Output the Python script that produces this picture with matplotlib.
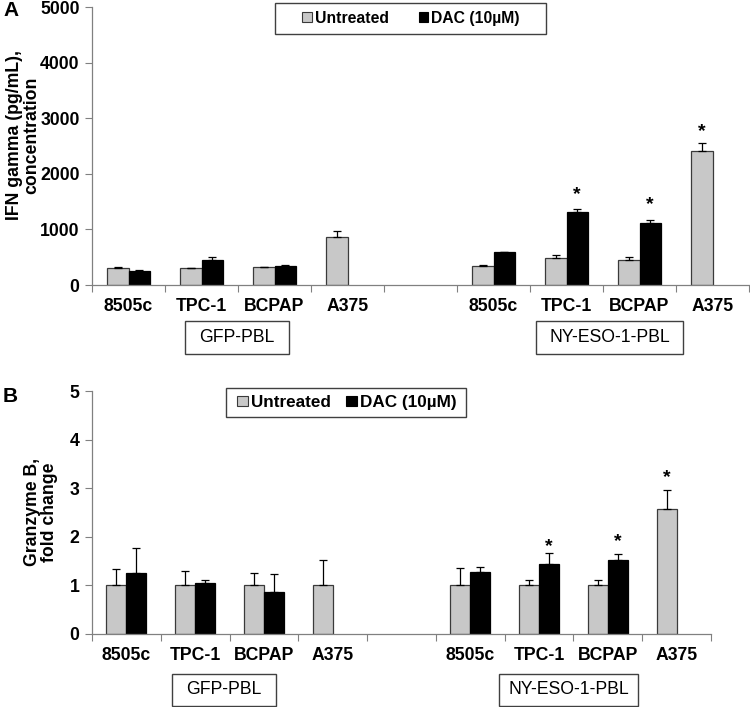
import numpy as np
import matplotlib
matplotlib.use("Agg")
import matplotlib.pyplot as plt
from matplotlib.patches import Patch, Rectangle

plt.rcParams['font.family'] = ['Liberation Sans', 'DejaVu Sans']

# ---------------- data ----------------
categories = ['8505c', 'TPC-1', 'BCPAP', 'A375', '', '8505c', 'TPC-1', 'BCPAP', 'A375']
series_names = ['Untreated', 'DAC (10\u00b5M)']
groups = ['GFP-PBL', 'NY-ESO-1-PBL']

nan = np.nan
ifn_untreated = [310, 300, 320, 860, nan, 340, 480, 450, 2410]
ifn_untreated_err = [15, 8, 12, 120, nan, 20, 55, 50, 140]
ifn_dac = [255, 450, 350, nan, nan, 590, 1305, 1110, nan]
ifn_dac_err = [15, 50, 8, nan, nan, 8, 55, 55, nan]
ifn_stars = [(6, 1, 1727), (7, 1, 1547), (8, 0, 2860)]

gzb_untreated = [1.0, 1.0, 1.0, 1.0, nan, 1.0, 1.0, 1.0, 2.57]
gzb_untreated_err = [0.34, 0.29, 0.25, 0.53, nan, 0.36, 0.12, 0.12, 0.40]
gzb_dac = [1.25, 1.05, 0.87, nan, nan, 1.27, 1.44, 1.52, nan]
gzb_dac_err = [0.51, 0.07, 0.36, nan, nan, 0.11, 0.23, 0.12, nan]
gzb_stars = [(6, 1, 1.93), (7, 1, 2.02), (8, 0, 3.34)]

# ---------------- style ----------------
W, H = 750, 707
GREY = '#c8c8c8'
EDGE = '#3a3a3a'
SPINE = '#808080'
FS = 12.7

fig = plt.figure(figsize=(W / 100, H / 100), dpi=100)


def fx(px):
    return px / W


def fy(py):
    return 1 - py / H


def panel(ax, unt, unt_err, dac, dac_err, stars, ymax, ystep, capsize):
    x = np.arange(len(categories))
    bw = 0.29
    unt = np.array(unt, float); dac = np.array(dac, float)
    ue = np.array(unt_err, float); de = np.array(dac_err, float)
    m1 = ~np.isnan(unt)
    m2 = ~np.isnan(dac)
    ax.bar(x[m1] - bw / 2, unt[m1], bw, color=GREY, edgecolor=EDGE, linewidth=0.9, zorder=2)
    ax.bar(x[m2] + bw / 2, dac[m2], bw, color='black', edgecolor='black', linewidth=0.9, zorder=2)
    ax.errorbar(x[m1] - bw / 2, unt[m1], yerr=[np.zeros(m1.sum()), ue[m1]], fmt='none',
                ecolor='black', elinewidth=0.9, capsize=capsize, capthick=0.9, zorder=3)
    ax.errorbar(x[m2] + bw / 2, dac[m2], yerr=[np.zeros(m2.sum()), de[m2]], fmt='none',
                ecolor='black', elinewidth=0.9, capsize=capsize, capthick=0.9, zorder=3)
    for idx, s, yv in stars:
        xs = idx + (bw / 2 if s == 1 else -bw / 2)
        ax.annotate('*', xy=(xs, yv), xytext=(0, -7.5), textcoords='offset points',
                    ha='center', va='baseline', fontsize=14, fontweight='bold')
    ax.set_xlim(-0.5, len(categories) - 0.5)
    ax.set_ylim(0, ymax)
    ax.set_yticks(np.arange(0, ymax + ystep / 2, ystep))
    ax.set_yticklabels([f'{int(v)}' for v in np.arange(0, ymax + ystep / 2, ystep)],
                       fontsize=FS, fontweight='bold')
    ax.set_xticks(x)
    ax.set_xticklabels(categories, fontsize=FS, fontweight='bold')
    ax.set_xticks(np.arange(-0.5, len(categories)), minor=True)
    ax.tick_params(axis='x', which='major', length=0, pad=9)
    ax.tick_params(axis='x', which='minor', length=5, width=0.8, color=SPINE, direction='out')
    ax.tick_params(axis='y', length=5, width=0.8, color=SPINE, direction='out', pad=4)
    for sp in ['top', 'right']:
        ax.spines[sp].set_visible(False)
    for sp in ['left', 'bottom']:
        ax.spines[sp].set_color(SPINE)
        ax.spines[sp].set_linewidth(0.9)
    ax.patch.set_alpha(0)


axA = fig.add_axes([fx(92), fy(285), fx(749 - 92), (285 - 7) / H])
panel(axA, ifn_untreated, ifn_untreated_err, ifn_dac, ifn_dac_err, ifn_stars, 5000, 1000, 3)
axB = fig.add_axes([fx(92), fy(634), fx(711 - 92), (634 - 391) / H])
panel(axB, gzb_untreated, gzb_untreated_err, gzb_dac, gzb_dac_err, gzb_stars, 5, 1, 3)

# panel letters
fig.text(fx(3), fy(11), 'A', fontsize=15, fontweight='bold', ha='left', va='center')
fig.text(fx(3), fy(396), 'B', fontsize=15, fontweight='bold', ha='left', va='center')

# y labels
fig.text(fx(23), fy(135), 'IFN gamma (pg/mL),\nconcentration', rotation=90, ha='center',
         va='center', fontsize=FS, fontweight='bold', linespacing=1.0, multialignment='center')
fig.text(fx(41), fy(512), 'Granzyme B,\nfold change', rotation=90, ha='center',
         va='center', fontsize=FS, fontweight='bold', linespacing=1.0, multialignment='center')

# legends
handles = [Patch(facecolor=GREY, edgecolor=EDGE, linewidth=0.8),
           Patch(facecolor='black', edgecolor='black', linewidth=0.8)]


def framed_legend(x0, y0, x1, y1, cx, size, colsp):
    fig.add_artist(Rectangle((fx(x0), fy(y1)), fx(x1 - x0), (y1 - y0) / H,
                             transform=fig.transFigure, fill=False, edgecolor='#404040', lw=1.0))
    fig.legend(handles, series_names, loc='center', bbox_to_anchor=(fx(cx), fy((y0 + y1) / 2)),
               ncol=2, frameon=False, prop={'size': size, 'weight': 'bold'},
               handlelength=0.6, handleheight=0.6, handletextpad=0.2, columnspacing=colsp,
               borderpad=0, borderaxespad=0)


framed_legend(275, 3, 546, 34, 411, 11.3, 1.9)
framed_legend(226, 388, 466, 417, 347, 12.3, 0.9)


# group boxes
def group_box(x0, y0, x1, y1, label):
    fig.add_artist(Rectangle((fx(x0), fy(y1)), fx(x1 - x0), (y1 - y0) / H,
                             transform=fig.transFigure, fill=False, edgecolor='#404040', lw=1.0))
    fig.text(fx((x0 + x1) / 2), fy((y0 + y1) / 2), label, ha='center', va='center', fontsize=FS)


group_box(185, 321, 289, 354, groups[0])
group_box(536, 321, 683, 354, groups[1])
group_box(172, 674, 276, 706, groups[0])
group_box(499, 674, 638, 706, groups[1])

fig.savefig('out.png', dpi=100)
